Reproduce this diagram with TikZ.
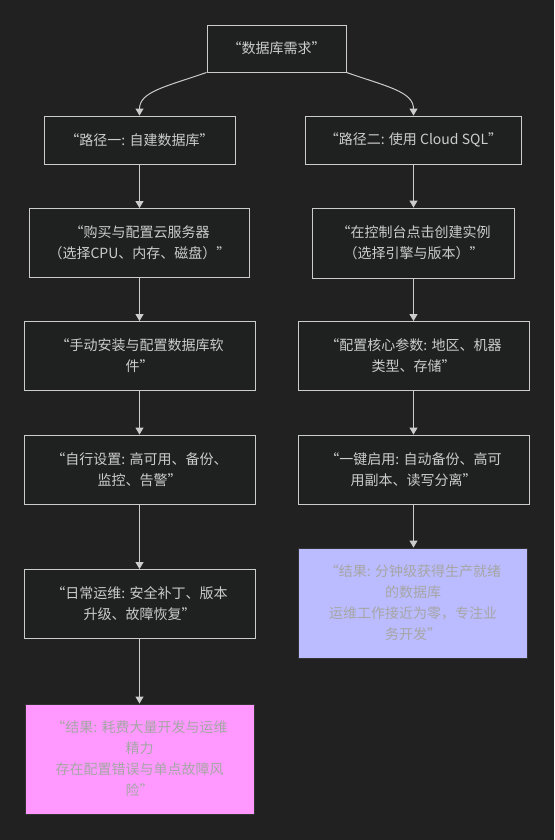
\documentclass[tikz,border=0pt]{standalone}
\usepackage{fontspec}
\setmainfont{Noto Sans CJK SC}
\usetikzlibrary{arrows.meta}
\definecolor{bgdark}{HTML}{212121}
\definecolor{boxfill}{HTML}{1F2020}
\definecolor{linegray}{HTML}{CCCCCC}
\definecolor{pinkfill}{HTML}{FF99FF}
\definecolor{bluefill}{HTML}{BBBBFF}
\begin{document}
\begin{tikzpicture}[x=1pt,y=-1pt,
  box/.style={draw=linegray,fill=boxfill,text=linegray,line width=0.9pt,inner sep=0pt,align=center,font=\fontsize{14}{21}\selectfont},
  pinkbox/.style={box,draw=black!80,fill=pinkfill,text=gray!70},
  bluebox/.style={box,draw=black!80,fill=bluefill,text=gray!70},
  arr/.style={draw=linegray,line width=1pt,-{Triangle[length=7pt,width=8pt]}}]
\fill[bgdark] (0,0) rectangle (554,840);
\useasboundingbox (0,0) rectangle (554,840);
\node[box,minimum width=139pt,minimum height=47pt] (need) at (276.5,48.5) {“数据库需求”};
\node[box,minimum width=191pt,minimum height=48pt] (self1) at (139.5,140) {“路径一: 自建数据库”};
\node[box,minimum width=216pt,minimum height=48pt] (cloud1) at (413.5,140) {“路径二: 使用 Cloud SQL”};
\node[box,minimum width=220pt,minimum height=69pt] (self2) at (139.5,243) {“购买与配置云服务器\\（选择CPU、内存、磁盘）”};
\node[box,minimum width=202pt,minimum height=70pt] (cloud2) at (413.5,243) {“在控制台点击创建实例\\（选择引擎与版本）”};
\node[box,minimum width=231pt,minimum height=69pt] (self3) at (139.5,356) {“手动安装与配置数据库软\\件”};
\node[box,minimum width=231pt,minimum height=69pt] (cloud3) at (413.5,356) {“配置核心参数: 地区、机器\\类型、存储”};
\node[box,minimum width=231pt,minimum height=69pt] (self4) at (139.5,469.5) {“自行设置: 高可用、备份、\\监控、告警”};
\node[box,minimum width=231pt,minimum height=69pt] (cloud4) at (413.5,469.5) {“一键启用: 自动备份、高可\\用副本、读写分离”};
\node[box,minimum width=231pt,minimum height=69pt] (self5) at (139.5,604) {“日常运维: 安全补丁、版本\\升级、故障恢复”};
\node[bluebox,minimum width=229pt,minimum height=110pt] (cloudres) at (413,603) {“结果: 分钟级获得生产就绪\\的数据库\\运维工作接近为零，专注业\\务开发”};
\node[pinkbox,minimum width=229pt,minimum height=110pt] (selfres) at (139.5,759) {“结果: 耗费大量开发与运维\\精力\\存在配置错误与单点故障风\\险”};
\draw[arr] (need.south west) .. controls +(-40,14) and +(0,-24) .. (self1.north);
\draw[arr] (need.south east) .. controls +(40,14) and +(0,-24) .. (cloud1.north);
\draw[arr] (self1) -- (self2);
\draw[arr] (self2) -- (self3);
\draw[arr] (self3) -- (self4);
\draw[arr] (self4) -- (self5);
\draw[arr] (self5) -- (selfres);
\draw[arr] (cloud1) -- (cloud2);
\draw[arr] (cloud2) -- (cloud3);
\draw[arr] (cloud3) -- (cloud4);
\draw[arr] (cloud4.south) -- (cloud4.south|-cloudres.north);
\end{tikzpicture}
\end{document}
